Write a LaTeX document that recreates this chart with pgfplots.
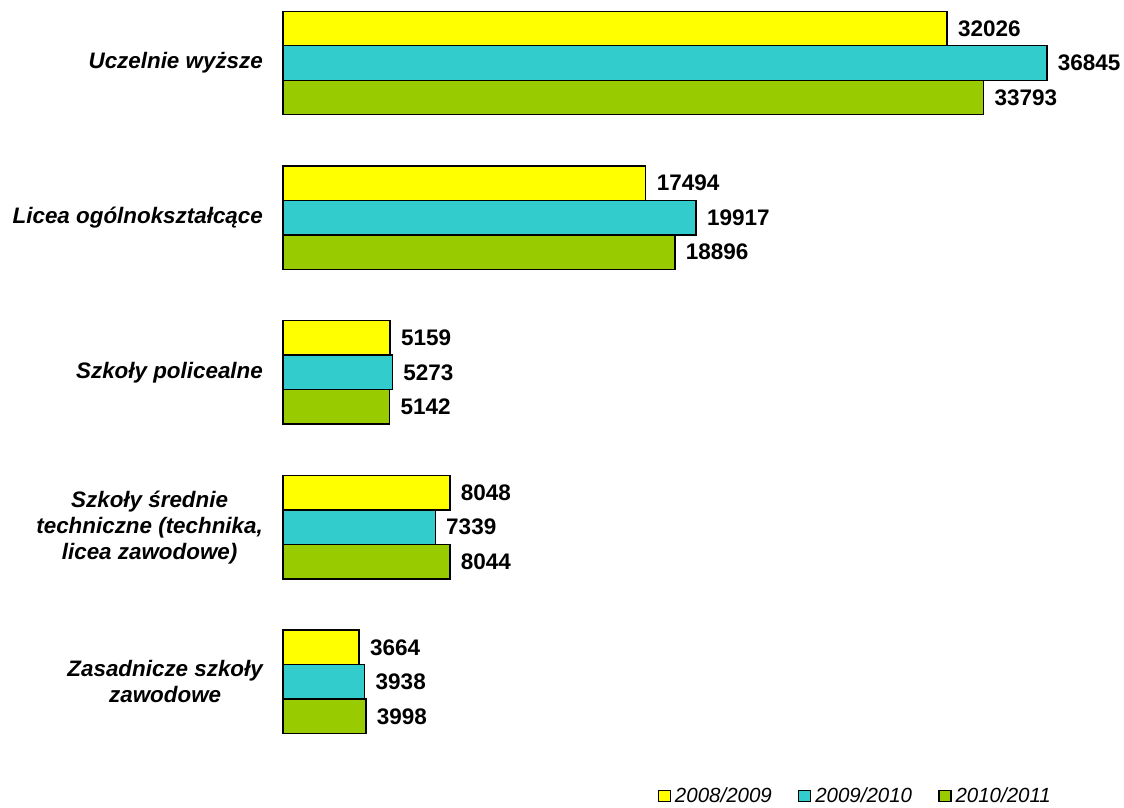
\documentclass[border=0pt]{standalone}
\usepackage{pgfplots}
\pgfplotsset{compat=1.18}
\usepackage{fontspec}
\setmainfont{Liberation Sans}
\definecolor{cyel}{HTML}{FFFF00}
\definecolor{ccya}{HTML}{33CCCC}
\definecolor{cgre}{HTML}{99CC00}
\begin{document}
\begin{tikzpicture}
\begin{axis}[
  scale only axis, width=1124pt, height=808pt,
  xmin=-13648, xmax=40558, ymin=-0.814, ymax=4.407,
  axis line style={draw=none},
  xtick=\empty, ytick={0,1,2,3,4},
  major tick length=0pt,
  yticklabels={{Zasadnicze szkoły\\zawodowe},{Szkoły średnie\\techniczne (technika,\\licea zawodowe)},{Szkoły policealne},{Licea ogólnokształcące},{Uczelnie wyższe}},
  yticklabel style={font=\fontsize{22.4}{26}\selectfont\bfseries\itshape, align=center, anchor=east, inner sep=0pt, xshift=263pt},
  xbar, bar width=34.5pt,
  legend image code/.code={\draw[#1, line width=1.4pt] (0pt,-5.5pt) rectangle (12pt,5.5pt);},
  point meta=explicit symbolic,
  nodes near coords,
  nodes near coords style={font=\fontsize{22.5}{24}\selectfont\bfseries, anchor=west, xshift=7pt},
  legend columns=3,
  legend style={draw=none, fill=none, at={(0.937,0.002)}, anchor=south east, inner sep=0pt,
    font=\fontsize{20.5}{22}\selectfont\itshape,
    /tikz/every odd column/.append style={column sep=2pt},
    /tikz/every even column/.append style={column sep=24pt}},
]
\addplot[fill=cyel, draw=black, line width=1.4pt, bar shift=34.5pt] coordinates {
  (3664,0) [3664] (8048,1) [8048] (5159,2) [5159] (17494,3) [17494] (32026,4) [32026]};
\addplot[fill=ccya, draw=black, line width=1.4pt, bar shift=0pt] coordinates {
  (3938,0) [3938] (7339,1) [7339] (5273,2) [5273] (19917,3) [19917] (36845,4) [36845]};
\addplot[fill=cgre, draw=black, line width=1.4pt, bar shift=-34.5pt] coordinates {
  (3998,0) [3998] (8044,1) [8044] (5142,2) [5142] (18896,3) [18896] (33793,4) [33793]};
\legend{2008/2009,2009/2010,2010/2011}
\end{axis}
\end{tikzpicture}
\end{document}
